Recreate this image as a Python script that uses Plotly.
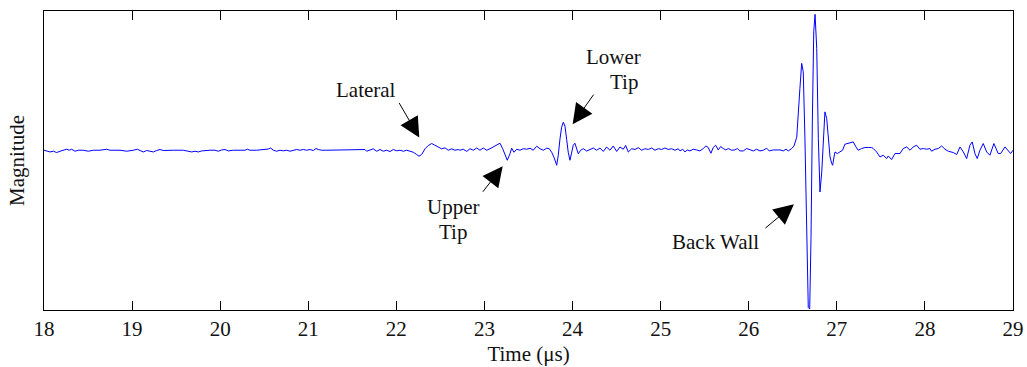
import plotly.graph_objects as go

# Time axis (microseconds) and measured A-scan magnitude (arbitrary units, baseline = 0)
time_us = [
    18.000, 18.031, 18.068, 18.106, 18.144, 18.182, 18.219, 18.258, 18.287, 18.314,
    18.352, 18.389, 18.446, 18.503, 18.560, 18.636, 18.712, 18.749, 18.863, 18.939,
    19.014, 19.059, 19.090, 19.127, 19.166, 19.203, 19.241, 19.279, 19.317, 19.354,
    19.393, 19.468, 19.581, 19.638, 19.677, 19.714, 19.752, 19.790, 19.828, 19.884,
    19.941, 19.979, 20.017, 20.055, 20.092, 20.149, 20.225, 20.282, 20.308, 20.338,
    20.414, 20.489, 20.546, 20.573, 20.603, 20.641, 20.679, 20.716, 20.755, 20.792,
    20.830, 20.868, 20.906, 20.943, 20.982, 21.019, 21.057, 21.088, 21.114, 21.152,
    21.209, 21.284, 21.379, 21.473, 21.587, 21.644, 21.663, 21.700, 21.738, 21.777,
    21.814, 21.852, 21.890, 21.928, 21.965, 22.004, 22.041, 22.079, 22.117, 22.155,
    22.192, 22.231, 22.257, 22.287, 22.325, 22.362, 22.401, 22.438, 22.476, 22.514,
    22.552, 22.589, 22.628, 22.665, 22.703,
    22.722, 22.760, 22.799, 22.836, 22.873, 22.912, 22.949, 22.987, 23.025, 23.063,
    23.100, 23.139, 23.176, 23.207, 23.233, 23.259, 23.290, 23.309, 23.335, 23.366,
    23.403, 23.441, 23.479, 23.517, 23.554, 23.593, 23.630, 23.668, 23.706, 23.736,
    23.763, 23.789, 23.820, 23.838, 23.857, 23.876, 23.895, 23.914, 23.933, 23.951,
    23.971, 23.990, 24.008, 24.027, 24.047, 24.065, 24.092, 24.122, 24.161, 24.198,
    24.235, 24.274, 24.311, 24.349, 24.387, 24.425, 24.462, 24.501, 24.538, 24.576,
    24.603, 24.633, 24.671, 24.709, 24.746, 24.785, 24.822, 24.860, 24.898, 24.936,
    24.973, 25.012, 25.049, 25.087, 25.125, 25.163, 25.200,
    25.220, 25.250, 25.276, 25.302, 25.333, 25.370, 25.409, 25.446, 25.484, 25.514,
    25.540, 25.571, 25.597, 25.624, 25.654, 25.681, 25.711, 25.741, 25.767, 25.806,
    25.843, 25.870, 25.900, 25.938, 25.977, 26.014, 26.052, 26.090, 26.128, 26.165,
    26.204, 26.233, 26.279, 26.355, 26.392, 26.423, 26.449, 26.488, 26.514, 26.545,
    26.562, 26.581, 26.601, 26.619, 26.638, 26.658, 26.676, 26.692, 26.707, 26.722,
    26.738, 26.753, 26.772, 26.790, 26.809, 26.829, 26.847, 26.865, 26.885, 26.903,
    26.923, 26.942, 26.953, 26.968, 26.979, 27.005, 27.036, 27.066, 27.092, 27.130,
    27.157, 27.187, 27.217, 27.243, 27.282, 27.319, 27.357, 27.395, 27.414, 27.452,
    27.490, 27.527, 27.566, 27.584, 27.622, 27.660, 27.717, 27.754, 27.793, 27.831,
    27.868, 27.906, 27.944, 27.982, 28.020, 28.057, 28.076, 28.114, 28.152, 28.190,
    28.228, 28.265, 28.322, 28.361, 28.398, 28.436, 28.474, 28.511, 28.537, 28.568,
    28.594, 28.625, 28.662, 28.701, 28.738, 28.783, 28.832, 28.860, 28.909, 28.946,
    28.973, 29.000,
]

magnitude = [
    0.000, -0.010, -0.017, -0.010, -0.023, -0.010, 0.003, 0.010, 0.000, 0.010,
    -0.010, 0.000, 0.000, -0.010, 0.000, 0.000, 0.010, 0.000, 0.000, -0.010,
    0.000, 0.010, -0.003, -0.017, -0.003, -0.010, -0.017, -0.003, 0.007, -0.003,
    0.000, 0.000, 0.000, -0.010, -0.017, -0.010, -0.017, -0.007, -0.003, 0.000,
    0.000, -0.010, 0.003, 0.007, -0.007, 0.000, 0.000, 0.000, 0.010, 0.000,
    0.000, 0.005, 0.012, 0.022, 0.000, -0.010, 0.000, -0.006, 0.000, -0.010,
    0.000, 0.007, 0.000, 0.007, 0.000, 0.007, -0.003, 0.017, 0.007, 0.000,
    0.000, 0.000, 0.007, 0.000, 0.000, 0.007, -0.010, 0.000, 0.014, -0.010,
    0.007, -0.010, 0.000, -0.013, 0.007, -0.006, 0.000, -0.010, 0.000, -0.010,
    -0.020, -0.043, -0.060, -0.043, 0.014, 0.047, 0.067, 0.050, 0.034, 0.014,
    0.024, 0.000, 0.014, 0.000, 0.007,
    0.000, 0.010, -0.012, 0.015, 0.000, 0.022, 0.000, 0.022, 0.000, 0.015,
    0.032, 0.055, 0.070, 0.015, -0.050, -0.100, -0.035, 0.020, -0.020, 0.010,
    0.000, 0.015, 0.010, 0.020, 0.000, 0.040, 0.015, 0.000, 0.020, 0.015,
    -0.020, -0.070, -0.150, -0.050, 0.110, 0.230, 0.280, 0.240, 0.110, -0.020,
    -0.100, -0.020, 0.050, 0.070, 0.020, -0.035, 0.000, 0.015, -0.008, 0.010,
    0.022, 0.000, 0.022, -0.012, 0.032, 0.000, 0.042, -0.012, 0.032, 0.010,
    0.048, -0.018, 0.015, 0.008, 0.025, 0.000, 0.015, 0.008, 0.022, 0.000,
    0.015, 0.008, 0.022, 0.008, 0.015, 0.000, 0.015,
    -0.007, 0.010, -0.017, 0.003, -0.007, 0.010, 0.003, -0.007, 0.017, 0.043,
    0.027, -0.030, 0.027, 0.050, 0.003, 0.037, 0.017, 0.003, 0.017, 0.000,
    0.003, 0.017, -0.007, -0.007, 0.017, 0.003, -0.007, 0.010, -0.007, 0.000,
    0.020, -0.007, 0.003, 0.003, -0.007, 0.010, -0.007, 0.017, 0.043, 0.130,
    0.317, 0.617, 0.867, 0.783, 0.120, -0.880, -1.570, -1.585, -0.880, 0.283,
    1.183, 1.357, 1.017, 0.120, -0.417, -0.217, 0.120, 0.383, 0.317, 0.120,
    -0.067, -0.133, -0.150, -0.067, -0.017, -0.033, -0.017, 0.000, 0.060, 0.067,
    0.073, 0.083, 0.033, 0.000, 0.017, 0.027, 0.027, 0.027, 0.017, -0.017,
    -0.067, -0.050, -0.083, -0.057, -0.093, -0.033, -0.033, 0.017, 0.033, 0.000,
    0.033, 0.050, 0.010, 0.017, 0.010, 0.017, -0.010, 0.010, 0.017, 0.043,
    0.010, -0.010, -0.023, -0.043, 0.033, -0.017, -0.083, 0.050, 0.083, -0.033,
    -0.083, 0.000, 0.067, -0.017, -0.050, 0.067, -0.033, -0.033, 0.033, 0.000,
    -0.033, 0.000,
]

x_ticks = [18, 19, 20, 21, 22, 23, 24, 25, 26, 27, 28, 29]

# Annotation labels: (text, time, magnitude)
labels = [
    ("Lateral", 21.655, 0.60),
    ("Upper", 22.643, -0.567),
    ("Tip", 22.646, -0.817),
    ("Lower", 24.470, 0.93),
    ("Tip", 24.584, 0.683),
    ("Back Wall", 25.628, -0.917),
]
# Arrows: (tip time, tip magnitude, tail dx px, tail dy px)
arrows = [
    (22.260, 0.127, -21, -36),
    (23.207, -0.160, -21, 27),
    (24.001, 0.260, 22, -31),
    (26.513, -0.540, -30, 25),
]

FONT = "Liberation Serif, Times New Roman, serif"
FS = 21

fig = go.Figure()
fig.add_trace(go.Scatter(
    x=time_us, y=magnitude, mode="lines",
    line=dict(color="#0000ff", width=1),
    showlegend=False, hoverinfo="skip",
))

for text, tx, ty in labels:
    fig.add_annotation(x=tx, y=ty, text=text, showarrow=False,
                       font=dict(family=FONT, size=FS, color="#111111"))

for tx, ty, dx, dy in arrows:
    fig.add_annotation(x=tx, y=ty, text="", showarrow=True,
                       ax=dx, ay=dy, arrowhead=2, arrowsize=4,
                       arrowwidth=1, arrowcolor="#000000", standoff=0)

fig.update_layout(
    width=1027, height=367,
    margin=dict(l=44, r=14, t=11, b=57),
    paper_bgcolor="white", plot_bgcolor="white",
    font=dict(family=FONT, size=FS, color="#111111"),
    xaxis=dict(
        range=[18, 29], tickvals=x_ticks, ticktext=[str(v) for v in x_ticks],
        ticks="inside", ticklen=9, tickwidth=1, tickcolor="#000000",
        showline=True, linecolor="#000000", linewidth=1, mirror="ticks",
        showgrid=False, zeroline=False, automargin=False,
        title=dict(text="Time (μs)", standoff=6, font=dict(size=FS)),
        tickfont=dict(size=FS),
    ),
    yaxis=dict(
        range=[-1.595, 1.39], showticklabels=False, ticks="",
        showline=True, linecolor="#000000", linewidth=1, mirror=True,
        showgrid=False, zeroline=False, automargin=False,
        title=dict(text="Magnitude", standoff=12, font=dict(size=FS)),
    ),
)

fig.write_html("out.html")
